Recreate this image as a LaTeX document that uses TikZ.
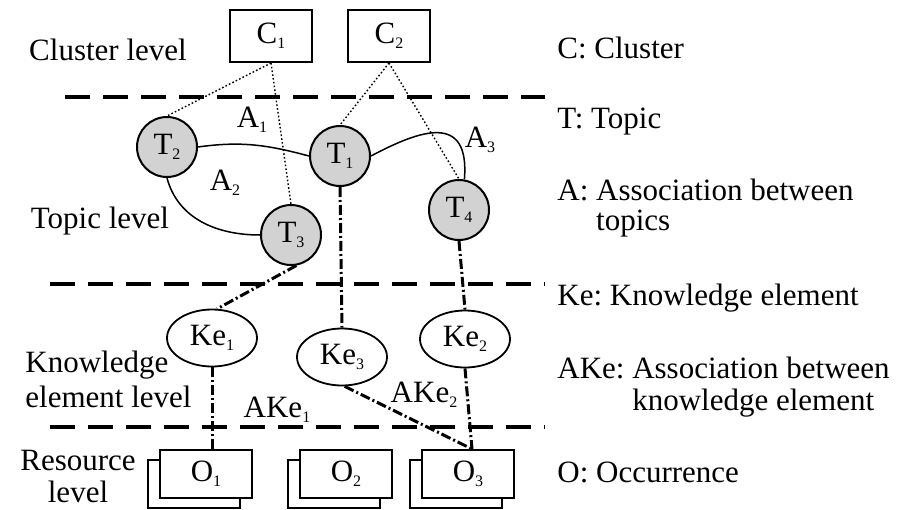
\documentclass[tikz,border=0pt]{standalone}
\usepackage{fontspec}
\setmainfont{Liberation Serif}
\usetikzlibrary{shapes.geometric}
\newcommand\lowsub[1]{\raisebox{-0.35ex}{\fontsize{8}{8}\selectfont #1}}
\frenchspacing
\begin{document}
\begin{tikzpicture}[x=0.5pt,y=0.5pt,
  every node/.style={font=\fontsize{15.5}{18}\selectfont\frenchspacing, inner sep=0pt},
  cluster/.style={draw, line width=1pt, minimum width=41pt, minimum height=26pt},
  topic/.style={circle, draw, line width=1pt, fill=gray!35, minimum size=30pt},
  kel/.style={ellipse, draw, line width=0.9pt, fill=white, minimum width=45pt, minimum height=28.5pt},
  occ/.style={draw, line width=1pt, fill=white, minimum width=46pt, minimum height=24pt},
  levelsep/.style={line width=2.2pt, dash pattern=on 12.5pt off 6.5pt},
  member/.style={line width=0.7pt, dash pattern=on 0.8pt off 1.1pt},
  assoc/.style={line width=0.75pt},
  occlink/.style={line width=1.5pt, dash pattern=on 5pt off 1.5pt on 1pt off 1.5pt},
  lbl/.style={anchor=base west},
  clbl/.style={anchor=base},
]
\useasboundingbox (0,0) rectangle (900,-509);

% level separators
\coordinate (s1a) at (65,-97);  \coordinate (s1b) at (545,-97);
\coordinate (s2a) at (50,-284); \coordinate (s2b) at (545,-284);
\coordinate (s3a) at (50,-427); \coordinate (s3b) at (545,-427);
\draw[levelsep] (s1a) -- (s1b);
\draw[levelsep] (s2a) -- (s2b);
\draw[levelsep] (s3a) -- (s3b);

% clusters
\node[cluster] (C1) at (271,-36) {C\lowsub{1}};
\node[cluster] (C2) at (389,-36) {C\lowsub{2}};

% topics
\node[topic] (T2) at (167,-147) {T\lowsub{2}};
\node[topic] (T1) at (340,-156) {T\lowsub{1}};
\node[topic] (T3) at (291,-235) {T\lowsub{3}};
\node[topic] (T4) at (459,-210) {T\lowsub{4}};

% knowledge elements
\node[kel] (Ke1) at (212,-338) {Ke\lowsub{1}};
\node[kel] (Ke3) at (342,-357) {Ke\lowsub{3}};
\node[kel] (Ke2) at (465,-339) {Ke\lowsub{2}};

% occurrences (stacked)
\node[occ] (O1b) at (194,-484) {};
\node[occ] (O1) at (206,-474) {O\lowsub{1}};
\node[occ] (O2b) at (334,-484) {};
\node[occ] (O2) at (346,-474) {O\lowsub{2}};
\node[occ] (O3b) at (456,-484) {};
\node[occ] (O3) at (468,-474) {O\lowsub{3}};
\coordinate (o3top) at ([xshift=2pt]O3.north);

% membership (dotted)
\draw[member] (C1.south) -- (T2.north);
\draw[member] (C1.south) -- (T3.north);
\draw[member] (C2.south) -- (T1.north);
\draw[member] (C2.south) -- (T4.north);

% topic associations
\draw[assoc] (T2.east) to[out=8,in=165] (T1.west);
\draw[assoc] (T2.south) to[out=-75,in=180] (T3.west);
\draw[assoc] (T1.east) .. controls (420,-130) and (470,-112) .. (T4.80);

% occurrence links (dash-dot)
\draw[occlink] (T3.-80) -- (Ke1.80);
\draw[occlink] (T1.south) -- (Ke3.north);
\draw[occlink] (T4.south) -- (Ke2.north);
\draw[occlink] (Ke1.south) -- (Ke1.south |- O1.north);
\draw[occlink] (Ke3.-85) -- (o3top);
\draw[occlink] (Ke2.south) -- (o3top);

% association labels
\node (A1) at (252,-120) {A\lowsub{1}};
\node (A2) at (225,-183) {A\lowsub{2}};
\node (A3) at (480,-140) {A\lowsub{3}};
\node (AKe1) at (277,-410) {AKe\lowsub{1}};
\node (AKe2) at (424,-395) {AKe\lowsub{2}};

% level labels
\node[clbl] (Lc) at (108,-60) {Cluster level};
\node[clbl] (Lt) at (100,-228) {Topic level};
\node[lbl] (Lk1) at (25,-372) {Knowledge};
\node[lbl] (Lk2) at (25,-407) {element level};
\node[clbl] (Lr1) at (78,-470) {Resource};
\node[clbl] (Lr2) at (78,-502) {level};

% legend
\node[lbl] (G1) at (557,-58) {C: Cluster};
\node[lbl] (G2) at (557,-128) {T: Topic};
\node[lbl] (G3) at (557,-200) {A: Association between};
\node[lbl] (G3b) at (557,-230) {\hphantom{A: }topics};
\node[lbl] (G4) at (557,-305) {Ke: Knowledge element};
\node[lbl] (G5) at (557,-378) {AKe: Association between};
\node[lbl] (G5b) at (557,-410) {\hphantom{AKe: }knowledge element};
\node[lbl] (G6) at (557,-482) {O: Occurrence};
\end{tikzpicture}
\end{document}
